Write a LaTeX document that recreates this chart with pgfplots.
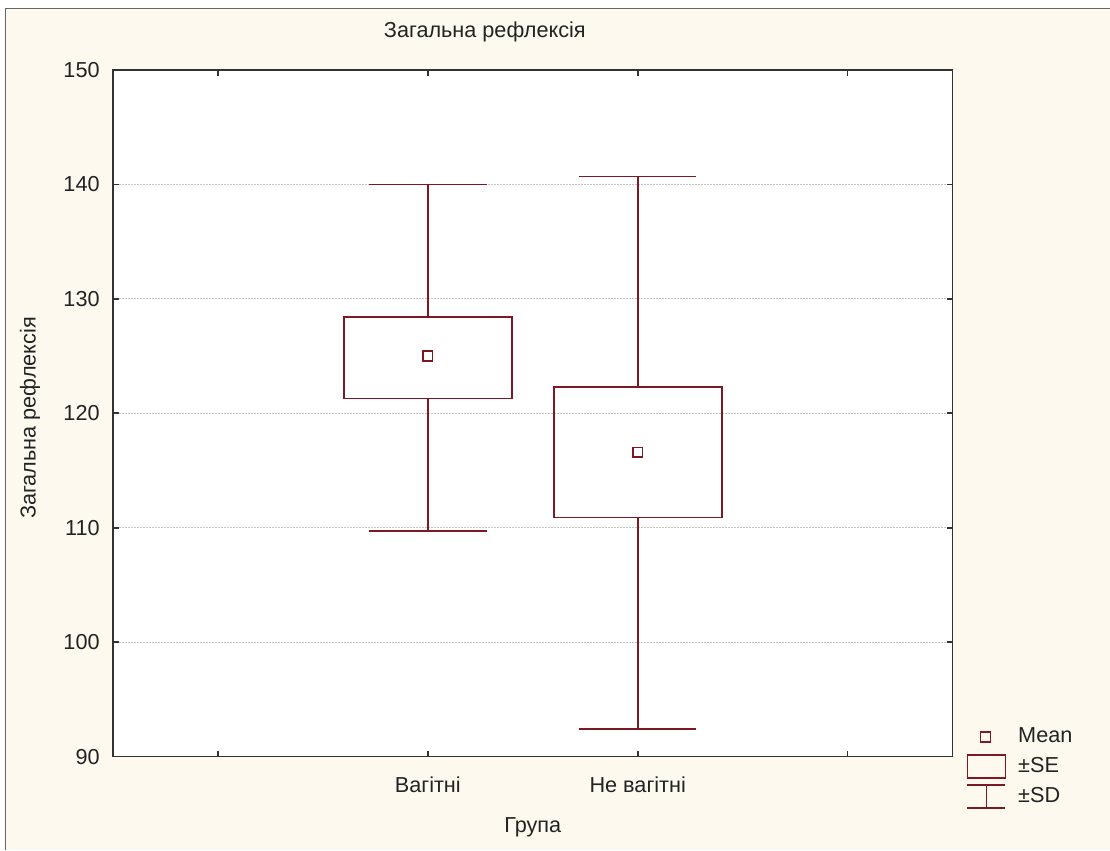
\documentclass[border=0pt]{standalone}
\usepackage{pgfplots}
\pgfplotsset{compat=1.18}
\usepackage{fontspec}
\setmainfont{Liberation Sans}
\definecolor{bgc}{RGB}{253,249,238}
\definecolor{dred}{RGB}{125,25,35}
\definecolor{axc}{RGB}{50,50,50}
\definecolor{txt}{RGB}{35,35,35}
\begin{document}
\fontsize{13pt}{15pt}\selectfont
\begin{tikzpicture}
\fill[white] (0,0) rectangle (666pt,510pt);
\fill[bgc] (3.6pt,0) rectangle (666pt,504.6pt);
\draw[gray!80!black, line width=0.6pt] (3.6pt,0) -- (3.6pt,504.6pt) -- (666pt,504.6pt);
\path[use as bounding box] (0,0) rectangle (666pt,510pt);
\begin{axis}[
  at={(67.8pt,55.8pt)}, anchor=south west,
  scale only axis, width=504pt, height=412.2pt,
  xmin=0.5, xmax=4.5, ymin=90, ymax=150,
  xtick={1,2,3,4}, xticklabels={,Вагітні,Не вагітні,},
  ytick={90,100,...,150},
  /pgf/number format/assume math mode=true,
  axis background/.style={fill=white},
  axis line style={axc, line width=1pt},
  tick style={axc, line width=1pt},
  major tick length=3.6pt, tick align=inside,
  ymajorgrids,
  grid style={dash pattern=on 1.2pt off 0.6pt, line width=0.6pt, color=gray!45},
  every tick label/.append style={text=txt, font=\fontsize{13pt}{15pt}\selectfont},
  xticklabel style={anchor=base, yshift=-21.6pt, inner sep=0pt},
  yticklabel style={anchor=east, inner sep=0pt, xshift=-7.8pt},
  title={Загальна рефлексія},
  title style={at={(axis description cs:0.4429,1.0408)}, anchor=center, text=txt},
  xlabel={Група},
  xlabel style={at={(axis description cs:0.5,-0.1033)}, anchor=center, text=txt},
  ylabel={Загальна рефлексія},
  ylabel style={at={(axis description cs:-0.0988,0.4934)}, anchor=center, rotate=0, text=txt},
  legend style={draw=none, fill=none, inner sep=0pt, outer sep=0pt,
    at={(axis description cs:1.0167,-0.0801)}, anchor=south west,
    row sep=0pt, nodes={inner sep=0pt, anchor=west, text=txt},
    /tikz/every odd column/.append style={column sep=7.2pt}},
  legend cell align=left,
  every axis plot/.append style={dred, line width=1pt, mark=none, solid, line join=miter},
]
% Вагітні: SE box, SD whiskers
\addplot[forget plot] coordinates {(1.6,121.3) (2.4,121.3) (2.4,128.4) (1.6,128.4) (1.6,121.3) (2.4,121.3)};
\addplot[forget plot] coordinates {(2,128.4) (2,140.0)};
\addplot[forget plot] coordinates {(1.72,140.0) (2.28,140.0)};
\addplot[forget plot] coordinates {(2,121.3) (2,109.7)};
\addplot[forget plot] coordinates {(1.72,109.7) (2.28,109.7)};
% Не вагітні
\addplot[forget plot] coordinates {(2.6,110.9) (3.4,110.9) (3.4,122.3) (2.6,122.3) (2.6,110.9) (3.4,110.9)};
\addplot[forget plot] coordinates {(3,122.3) (3,140.7)};
\addplot[forget plot] coordinates {(2.72,140.7) (3.28,140.7)};
\addplot[forget plot] coordinates {(3,110.9) (3,92.4)};
\addplot[forget plot] coordinates {(2.72,92.4) (3.28,92.4)};
% Means
\addplot[forget plot, only marks, mark=square, mark size=2.9pt]
  coordinates {(2,125.0) (3,116.6)};
\addlegendimage{legend image code/.code={\path[draw=none,fill=none] (0pt,-9pt) rectangle (22.8pt,9pt);
  \draw[dred, line width=1pt] (7.8pt,-3pt) rectangle (13.8pt,3pt);}}
\addlegendentry{Mean}
\addlegendimage{legend image code/.code={\path[draw=none,fill=none] (0pt,-9pt) rectangle (22.8pt,9pt);
  \draw[dred, line width=1pt] (0pt,-6.9pt) rectangle (22.8pt,6.9pt);}}
\addlegendentry{±SE}
\addlegendimage{legend image code/.code={\path[draw=none,fill=none] (0pt,-9pt) rectangle (22.8pt,9pt);
  \draw[dred, line width=1pt] (0pt,6.9pt) -- (22.8pt,6.9pt) (11.4pt,6.9pt) -- (11.4pt,-6.9pt) (0pt,-6.9pt) -- (22.8pt,-6.9pt);}}
\addlegendentry{±SD}
\end{axis}
\end{tikzpicture}
\end{document}
